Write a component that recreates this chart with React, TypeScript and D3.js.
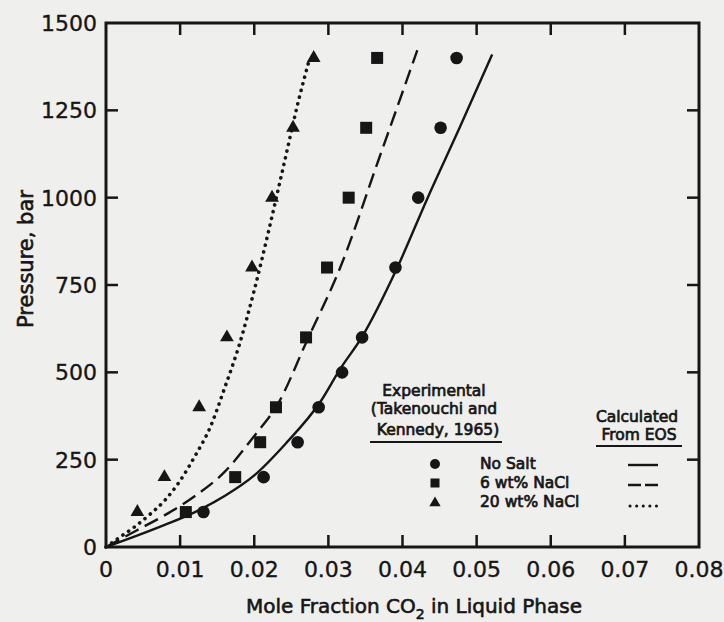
import React from "react";
import * as d3 from "d3";

const W = 724;
const H = 622;

// Axis ticks
const xTicks = [0, 0.01, 0.02, 0.03, 0.04, 0.05, 0.06, 0.07, 0.08];
const xTickLabels = ["0", "0.01", "0.02", "0.03", "0.04", "0.05", "0.06", "0.07", "0.08"];
const yTicks = [0, 250, 500, 750, 1000, 1250, 1500];
const yTickLabels = ["0", "250", "500", "750", "1000", "1250", "1500"];

// Experimental (Takenouchi and Kennedy, 1965)
const noSaltX = [0.01315, 0.02126, 0.02585, 0.02869, 0.03185, 0.03455, 0.03905, 0.04212, 0.04514, 0.0473];
const noSaltP = [100, 200, 300, 400, 500, 600, 800, 1000, 1200, 1400];
const nacl6X = [0.01077, 0.01743, 0.0208, 0.02293, 0.02699, 0.02982, 0.03274, 0.0351, 0.03658];
const nacl6P = [100, 200, 300, 400, 600, 800, 1000, 1200, 1400];
const nacl20X = [0.00423, 0.00788, 0.01257, 0.01631, 0.0197, 0.0224, 0.02523, 0.02802];
const nacl20P = [100, 200, 400, 600, 800, 1000, 1200, 1400];

// Calculated from EOS
const eosNoSaltX = [0, 0.004, 0.008, 0.012, 0.016, 0.02, 0.0242, 0.0289, 0.0316, 0.0345, 0.0393, 0.0434, 0.0477, 0.0521];
const eosNoSaltP = [0, 31, 64, 100, 146, 205, 295, 415, 510, 600, 800, 1000, 1200, 1410];
const eos6X = [0, 0.004, 0.008, 0.012, 0.016, 0.02, 0.0232, 0.0271, 0.0316, 0.0368, 0.042];
const eos6P = [0, 46, 92, 146, 215, 318, 410, 590, 800, 1110, 1422];
const eos20X = [0, 0.002, 0.004, 0.006, 0.008, 0.01, 0.012, 0.014, 0.016, 0.018, 0.02, 0.022, 0.024, 0.026, 0.0273];
const eos20P = [0, 30, 60, 95, 135, 190, 260, 340, 455, 580, 735, 910, 1095, 1280, 1385];

const legendLabels = ["No Salt", "6 wt% NaCl", "20 wt% NaCl"];

const INK = "#161616";
const FONT = "'DejaVu Sans', sans-serif";

export default function App() {
  const x = d3.scaleLinear().domain([0, 0.08]).range([106, 699]);
  const y = d3.scaleLinear().domain([0, 1500]).range([547, 23]);

  const line = d3
    .line<[number, number]>()
    .x((d) => x(d[0]))
    .y((d) => y(d[1]))
    .curve(d3.curveMonotoneX);

  const zip = (a: number[], b: number[]) => a.map((v, i) => [v, b[i]] as [number, number]);

  const tri = d3.symbol().type(d3.symbolTriangle).size(82)();
  const triLeg = d3.symbol().type(d3.symbolTriangle).size(56)();

  const [x0, x1] = x.range();
  const [y0, y1] = y.range();
  const tickLen = 12;

  const legRowsY = [464, 483, 503];
  const legTextY = [469, 488, 507];

  return (
    <svg
      width={W}
      height={H}
      style={{ position: "absolute", left: 0, top: 0, display: "block" }}
      fontFamily={FONT}
    >
      <rect x={0} y={0} width={W} height={H} fill="#efefed" />

      {/* frame */}
      <rect x={x0} y={y1} width={x1 - x0} height={y0 - y1} fill="none" stroke={INK} strokeWidth={3} />

      {/* x ticks bottom & top */}
      {xTicks.slice(1, -1).map((t) => (
        <g key={"xt" + t}>
          <line x1={x(t)} x2={x(t)} y1={y0} y2={y0 - tickLen} stroke={INK} strokeWidth={2.5} />
          <line x1={x(t)} x2={x(t)} y1={y1} y2={y1 + tickLen} stroke={INK} strokeWidth={2.5} />
        </g>
      ))}
      {/* y ticks left & right */}
      {yTicks.slice(1, -1).map((t) => (
        <g key={"yt" + t}>
          <line x1={x0} x2={x0 + tickLen} y1={y(t)} y2={y(t)} stroke={INK} strokeWidth={2.5} />
          <line x1={x1} x2={x1 - tickLen} y1={y(t)} y2={y(t)} stroke={INK} strokeWidth={2.5} />
        </g>
      ))}

      {/* tick labels */}
      <g fill={INK} stroke={INK} strokeWidth={0.35} fontSize={22}>
        {xTicks.map((t, i) => (
          <text key={"xl" + t} x={x(t)} y={577} textAnchor="middle">
            {xTickLabels[i]}
          </text>
        ))}
        {yTicks.map((t, i) => (
          <text key={"yl" + t} x={97} y={y(t) + 8} textAnchor="end">
            {yTickLabels[i]}
          </text>
        ))}
      </g>

      {/* axis titles */}
      <text
        x={414}
        y={613}
        textAnchor="middle"
        fontSize={20}
        fill={INK}
        stroke={INK}
        strokeWidth={0.6}
      >
        Mole Fraction CO
        <tspan fontSize={14} dy={6}>2</tspan>
        <tspan dy={-6}> in Liquid Phase</tspan>
      </text>
      <text
        transform="translate(33,259) rotate(-90)"
        textAnchor="middle"
        fontSize={21}
        fill={INK}
        stroke={INK}
        strokeWidth={0.6}
      >
        Pressure, bar
      </text>

      {/* EOS curves */}
      <path d={line(zip(eosNoSaltX, eosNoSaltP)) || ""} fill="none" stroke={INK} strokeWidth={2.4} />
      <path
        d={line(zip(eos6X, eos6P)) || ""}
        fill="none"
        stroke={INK}
        strokeWidth={2.4}
        strokeDasharray="15 7"
      />
      <path
        d={line(zip(eos20X, eos20P)) || ""}
        fill="none"
        stroke={INK}
        strokeWidth={3.6}
        strokeLinecap="round"
        strokeDasharray="0.1 6.8"
      />

      {/* experimental markers */}
      {noSaltX.map((v, i) => (
        <circle key={"c" + i} cx={x(v)} cy={y(noSaltP[i])} r={6.3} fill={INK} />
      ))}
      {nacl6X.map((v, i) => (
        <rect key={"s" + i} x={x(v) - 6} y={y(nacl6P[i]) - 6} width={12} height={12} fill={INK} />
      ))}
      {nacl20X.map((v, i) => (
        <path
          key={"t" + i}
          d={tri || ""}
          transform={`translate(${x(v)},${y(nacl20P[i])})`}
          fill={INK}
        />
      ))}

      {/* legend */}
      <g fill={INK} stroke={INK} strokeWidth={0.7} fontSize={15.5}>
        <text x={434} y={396} textAnchor="middle">Experimental</text>
        <text x={434} y={414} textAnchor="middle">(Takenouchi and</text>
        <text x={438} y={435} textAnchor="middle">Kennedy, 1965)</text>
        <text x={637} y={422} textAnchor="middle">Calculated</text>
        <text x={639} y={440} textAnchor="middle">From EOS</text>
        {legendLabels.map((l, i) => (
          <text key={l} x={480} y={legTextY[i]}>{l}</text>
        ))}
      </g>
      <line x1={370} x2={502} y1={442} y2={442} stroke={INK} strokeWidth={2} />
      <line x1={596} x2={682} y1={446} y2={446} stroke={INK} strokeWidth={2} />

      <circle cx={435} cy={legRowsY[0]} r={5} fill={INK} />
      <rect x={430.5} y={legRowsY[1] - 4.5} width={9} height={9} fill={INK} />
      <path d={triLeg || ""} transform={`translate(435,${legRowsY[2]})`} fill={INK} />

      <line x1={628} x2={658} y1={465} y2={465} stroke={INK} strokeWidth={2.4} />
      <line x1={628} x2={658} y1={485} y2={485} stroke={INK} strokeWidth={2.4} strokeDasharray="13 4" />
      <line
        x1={630}
        x2={663}
        y1={506}
        y2={506}
        stroke={INK}
        strokeWidth={3}
        strokeLinecap="round"
        strokeDasharray="0.1 6.5"
      />
    </svg>
  );
}
